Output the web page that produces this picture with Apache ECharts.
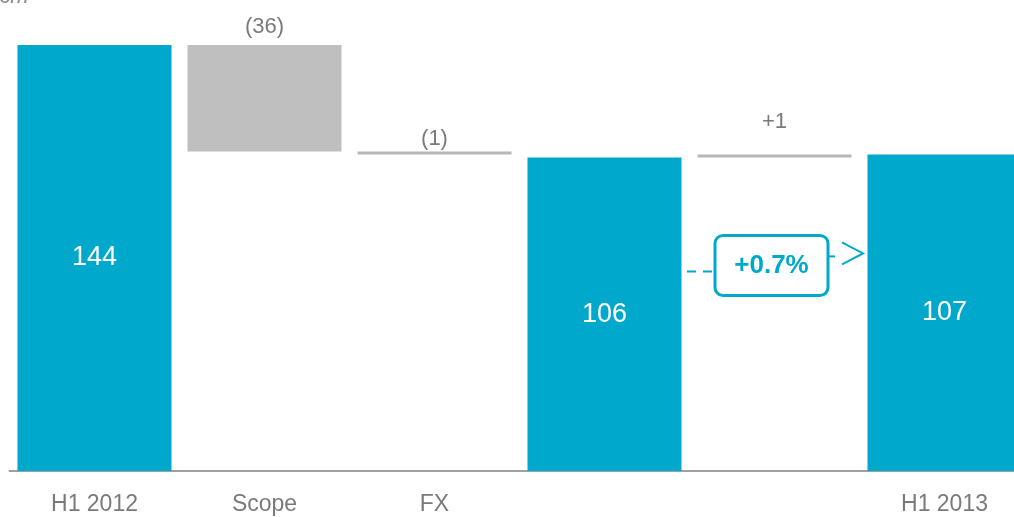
<!DOCTYPE html>
<html>
<head>
<meta charset="utf-8">
<script src="https://cdn.jsdelivr.net/npm/echarts@6/dist/echarts.min.js"></script>
<style>
  html, body { margin: 0; padding: 0; background: #fff; }
  #chart { width: 1014px; height: 517px; }
</style>
</head>
<body>
<div id="chart"></div>
<script>
// Bridge from H1 2012 to H1 2013 (€m)
const categories = ['H1 2012', 'Scope', 'FX', '', '', 'H1 2013'];
const values = [144, -36, -1, 106, 1, 107];
const isTotal = [true, false, false, true, false, true];
const changeLabel = '+0.7%';

const BLUE = '#00A8CC';
const GREY_BAR = '#BFBFBF';
const GREY_LINE = '#B8B8B8';
const TEXT_GREY = '#7A7A7A';
const FONT = "'Liberation Sans Narrow', 'Arial Narrow', 'Liberation Sans', Arial, sans-serif";

// Build invisible bases and visible pieces for the waterfall
const bases = [];
const pieces = [];
let level = 0;
values.forEach((v, i) => {
  if (isTotal[i]) {
    bases.push(0);
    pieces.push(v);
    level = v;
  } else {
    const next = level + v;
    bases.push(Math.min(level, next));
    pieces.push(Math.abs(v));
    level = next;
  }
});

function deltaText(v) {
  return v < 0 ? '(' + Math.abs(v) + ')' : '+' + v;
}

// Distance of each top label above its piece
const topDistance = [0, 7, 2, 0, 22, 0];

const pieceData = values.map((v, i) => {
  if (isTotal[i]) {
    return {
      value: pieces[i],
      itemStyle: { color: BLUE },
      label: {
        show: true, position: 'inside', formatter: String(v),
        color: '#fff', fontSize: 27, fontFamily: FONT
      }
    };
  }
  const big = Math.abs(v) > 2;
  return {
    value: pieces[i],
    itemStyle: { color: big ? GREY_BAR : GREY_LINE },
    label: {
      show: true, position: 'top', distance: topDistance[i],
      formatter: deltaText(v), color: TEXT_GREY, fontSize: 22, fontFamily: FONT
    }
  };
});

const euroMark = {
  type: 'text', left: -2, top: -14,
  style: { text: '€m', fill: '#8A8A8A', font: 'italic 22px ' + FONT }
};

const chart = echarts.init(document.getElementById('chart'));
chart.setOption({
  animation: false,
  backgroundColor: '#fff',
  // the last column runs past the right edge of the canvas
  grid: { left: 9.5, width: 1020, top: 27.3, bottom: 46, outerBoundsMode: 'none', containLabel: false },
  xAxis: {
    type: 'category',
    data: categories,
    axisLine: { lineStyle: { color: '#A0A0A0', width: 2 } },
    axisTick: { show: false },
    axisLabel: { color: TEXT_GREY, fontSize: 23, margin: 22, fontFamily: FONT, interval: 0 }
  },
  yAxis: {
    type: 'value', min: 0, max: 150, show: false,
    splitLine: { show: false }
  },
  series: [
    {
      type: 'bar', stack: 'wf', barWidth: 154, silent: true,
      itemStyle: { color: 'transparent' },
      data: bases
    },
    {
      type: 'bar', stack: 'wf', barWidth: 154,
      data: pieceData
    }
  ],
  graphic: [euroMark]
});

// Growth callout between the two blue totals
const c = chart.convertToPixel({ xAxisIndex: 0 }, 4);
const yMid = chart.convertToPixel({ yAxisIndex: 0 }, 69.5);
const boxW = 113, boxH = 60;
const bx = c - 3 - boxW / 2, by = yMid - boxH / 2;
chart.setOption({
  graphic: [
    euroMark,
    {
      type: 'line',
      shape: { x1: bx - 28, y1: yMid + 6, x2: bx, y2: yMid + 6 },
      style: { stroke: BLUE, lineWidth: 2, lineDash: [9, 7] }
    },
    {
      type: 'line',
      shape: { x1: bx + boxW, y1: yMid - 9, x2: bx + boxW + 12, y2: yMid - 9 },
      style: { stroke: BLUE, lineWidth: 2, lineDash: [7, 5] }
    },
    {
      type: 'polyline',
      shape: { points: [[bx + boxW + 14, yMid - 23], [bx + boxW + 35, yMid - 12], [bx + boxW + 14, yMid - 1]] },
      style: { stroke: BLUE, lineWidth: 2, fill: null }
    },
    {
      type: 'rect',
      shape: { x: bx, y: by, width: boxW, height: boxH, r: 8 },
      style: { fill: '#fff', stroke: BLUE, lineWidth: 3 }
    },
    {
      type: 'text',
      x: bx + boxW / 2, y: yMid,
      style: {
        text: changeLabel, fill: BLUE, font: 'bold 26px ' + FONT,
        align: 'center', verticalAlign: 'middle'
      }
    }
  ]
});
</script>
</body>
</html>
